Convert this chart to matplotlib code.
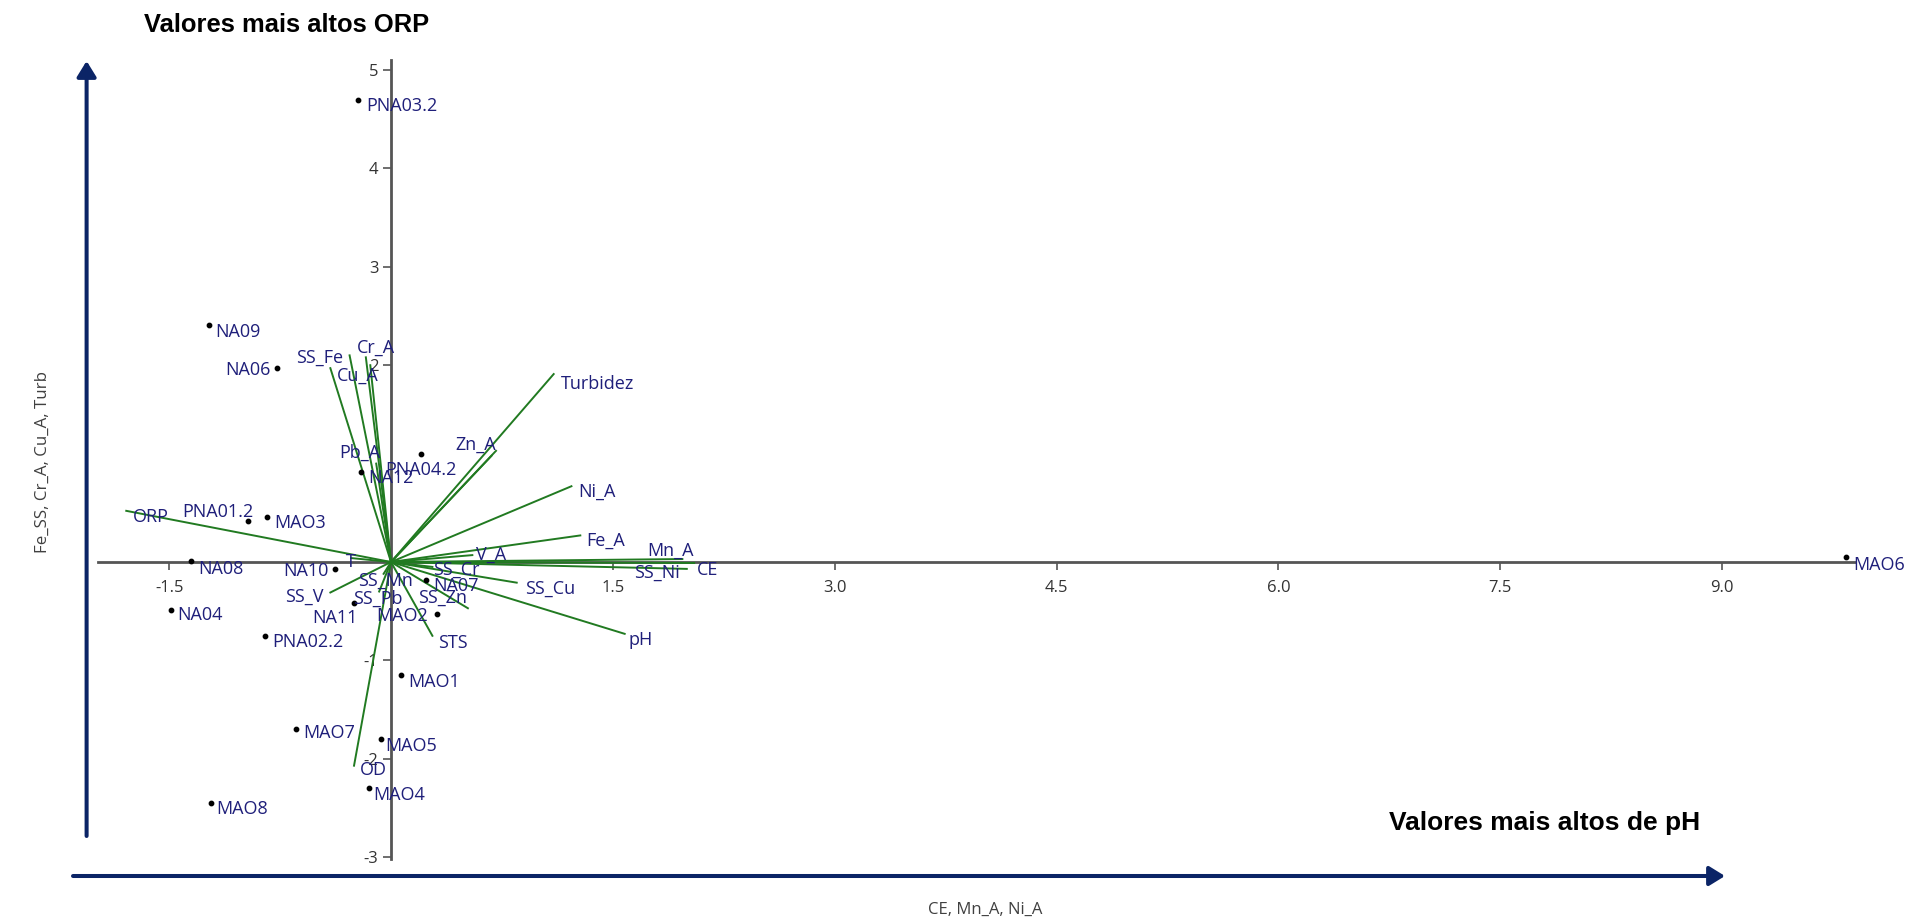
import numpy as np
import matplotlib
matplotlib.use("Agg")
import matplotlib.pyplot as plt

# sample scores (component 1, component 2)
sample_names = ["PNA03.2", "NA09", "NA06", "PNA04.2", "NA12", "PNA01.2", "MAO3",
                "NA08", "NA10", "NA07", "NA11", "MAO2", "PNA02.2", "NA04",
                "MAO1", "MAO7", "MAO5", "MAO4", "MAO8", "MAO6"]
sample_x = [-0.22, -1.23, -0.77, 0.20, -0.20, -0.97, -0.84,
            -1.35, -0.38, 0.24, -0.25, 0.31, -0.85, -1.49,
            0.07, -0.64, -0.07, -0.15, -1.22, 9.84]
sample_y = [4.70, 2.41, 1.97, 1.10, 0.91, 0.42, 0.46,
            0.01, -0.07, -0.18, -0.42, -0.53, -0.75, -0.49,
            -1.15, -1.70, -1.80, -2.30, -2.45, 0.05]

# variable loadings (biplot vectors); empty name = label hidden under a neighbour
var_names = ["ORP", "SS_Fe", "Cr_A", "Cu_A", "", "Pb_A", "Turbidez", "Zn_A", "",
             "Ni_A", "Fe_A", "V_A", "Mn_A", "CE", "SS_Ni", "SS_Cr", "SS_Cu",
             "pH", "STS", "SS_Zn", "SS_Mn", "SS_Pb", "SS_V", "T", "OD"]
var_x = [-1.79, -0.28, -0.17, -0.14, -0.41, -0.10, 1.10, 0.71, 0.68,
         1.22, 1.28, 0.55, 1.97, 2.05, 2.00, 0.28, 0.85,
         1.58, 0.28, 0.52, -0.05, -0.08, -0.41, -0.27, -0.25]
var_y = [0.52, 2.10, 2.08, 2.00, 1.97, 1.00, 1.91, 1.13, 1.08,
         0.77, 0.27, 0.07, 0.03, -0.01, -0.07, -0.05, -0.21,
         -0.73, -0.75, -0.47, -0.12, -0.30, -0.31, 0.04, -2.07]

x_ticks = [-1.5, 1.5, 3.0, 4.5, 6.0, 7.5, 9.0]
y_ticks = [-3, -2, -1, 2, 3, 4, 5]

# label placement: (dx px, dy px, horizontal alignment)
sample_lbl = {
    "PNA03.2": (8, -6, "left"), "NA09": (6, -7, "left"), "NA06": (-6, -2, "right"),
    "PNA04.2": (0, -16, "center"), "NA12": (7, -6, "left"), "PNA01.2": (6, 9, "right"),
    "MAO3": (7, -6, "left"), "NA08": (7, -8, "left"), "NA10": (-6, -2, "right"),
    "NA07": (7, -6, "left"), "NA11": (4, -15, "right"), "MAO2": (-9, -2, "right"),
    "PNA02.2": (7, -6, "left"), "NA04": (7, -5, "left"), "MAO1": (7, -7, "left"),
    "MAO7": (7, -4, "left"), "MAO5": (5, -7, "left"), "MAO4": (4, -7, "left"),
    "MAO8": (6, -6, "left"), "MAO6": (7, -8, "left"),
}
var_lbl = {
    "ORP": (7, -6, "left"), "SS_Fe": (-6, -2, "right"), "Cr_A": (-9, 10, "left"),
    "Cu_A": (-13, -11, "center"), "Pb_A": (4, 11, "right"), "Turbidez": (7, -10, "left"),
    "Zn_A": (0, 6, "right"), "Ni_A": (7, -6, "left"), "Fe_A": (6, -5, "left"),
    "V_A": (4, 0, "left"), "Mn_A": (-12, 8, "center"), "CE": (3, -7, "left"),
    "SS_Ni": (-7, -4, "right"), "SS_Cr": (1, -3, "left"), "SS_Cu": (8, -6, "left"),
    "pH": (4, -6, "left"), "STS": (6, -7, "left"), "SS_Zn": (-1, 10, "right"),
    "SS_Mn": (2, -7, "center"), "SS_Pb": (-1, -7, "center"), "SS_V": (-7, -4, "right"),
    "T": (0, -4, "center"), "OD": (6, -4, "left"),
}

navy = "#0b2466"
lbl_col = "#1f1f7a"
vec_col = "#217a21"
axis_col = "#555555"
ui_font = "Open Sans"

W, H = 1912, 923
fig = plt.figure(figsize=(W / 100, H / 100), dpi=100)
ax = fig.add_axes([0, 0, 1, 1])

# origin of the plot at (391, 562) px, 147.9 px per x unit, 98.4 px per y unit
ox, oy, ux, uy = 391, 562, 147.9, 98.4
ax.set_xlim(-ox / ux, (W - ox) / ux)
ax.set_ylim(-(H - oy) / uy, oy / uy)

for s in ["top", "right"]:
    ax.spines[s].set_visible(False)
ax.spines["left"].set_position(("data", 0))
ax.spines["bottom"].set_position(("data", 0))
ax.spines["left"].set_bounds(-3.02, 5.1)
ax.spines["bottom"].set_bounds(-1.98, 9.9)
for s in ["left", "bottom"]:
    ax.spines[s].set_color(axis_col)
    ax.spines[s].set_linewidth(2)
    ax.spines[s].set_zorder(1)

ax.set_xticks(x_ticks)
ax.set_xticklabels([f"{v:.1f}" for v in x_ticks])
ax.set_yticks(y_ticks)
ax.set_yticklabels([str(v) for v in y_ticks])
ax.tick_params(axis="x", direction="out", length=6, width=1.2, color=axis_col,
               pad=7, labelsize=12, labelcolor="#333333")
ax.tick_params(axis="y", direction="out", length=6, width=1.2, color=axis_col,
               pad=3, labelsize=12, labelcolor="#333333")
for t in ax.get_xticklabels() + ax.get_yticklabels():
    t.set_fontfamily(ui_font)

# loading vectors
for name, vx, vy in zip(var_names, var_x, var_y):
    ax.plot([0, vx], [0, vy], color=vec_col, lw=1.4, zorder=2)
    if name:
        dx, dy, ha = var_lbl[name]
        ax.annotate(name, (vx, vy), xytext=(dx, dy), textcoords="offset pixels",
                    ha=ha, va="center", fontsize=13, color=lbl_col,
                    family=ui_font, zorder=4)

# sample scores
ax.scatter(sample_x, sample_y, s=10, color="black", zorder=3)
for name, sx, sy in zip(sample_names, sample_x, sample_y):
    dx, dy, ha = sample_lbl[name]
    ax.annotate(name, (sx, sy), xytext=(dx, dy), textcoords="offset pixels",
                ha=ha, va="center", fontsize=13, color=lbl_col,
                family=ui_font, zorder=4)

# axis titles
fig.text(43 / W, 1 - 462 / H, "Fe_SS, Cr_A, Cu_A, Turb", rotation=90,
         ha="center", va="center", fontsize=12.2, color="#404040", family=ui_font)
fig.text(985 / W, 1 - 910 / H, "CE, Mn_A, Ni_A", ha="center", va="center",
         fontsize=12, color="#404040", family=ui_font)

# direction arrows and notes
arrow = dict(arrowstyle="-|>,head_length=0.47,head_width=0.29", color=navy,
             lw=2.9, mutation_scale=20, shrinkA=0, shrinkB=0)
ax.annotate("", xy=(86.6, H - 61), xytext=(86.6, H - 836),
            xycoords="figure pixels", textcoords="figure pixels", arrowprops=arrow)
ax.annotate("", xy=(1725, H - 876), xytext=(73, H - 876),
            xycoords="figure pixels", textcoords="figure pixels", arrowprops=arrow)

fig.text(144 / W, 1 - 25 / H, "Valores mais altos ORP", ha="left", va="center",
         fontsize=18.4, fontweight="bold", family="Liberation Sans")
fig.text(1389 / W, 1 - 823 / H, "Valores mais altos de pH", ha="left", va="center",
         fontsize=19, fontweight="bold", family="Liberation Sans")

fig.savefig("out.png", dpi=100, facecolor="white")
